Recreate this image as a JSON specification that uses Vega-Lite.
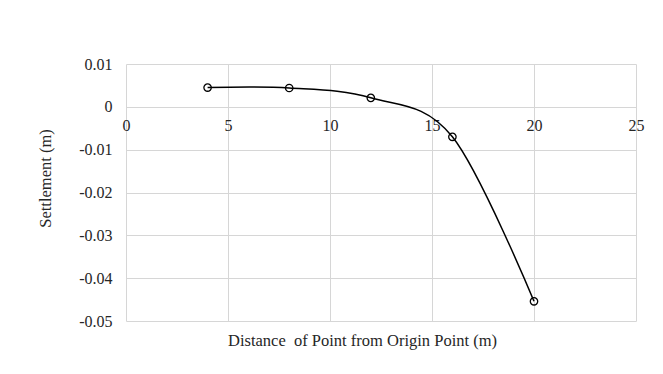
{
  "$schema": "https://vega.github.io/schema/vega-lite/v6.json",
  "width": 510,
  "height": 257,
  "autosize": {"type": "none"},
  "padding": {"left": 126, "top": 64, "right": 27, "bottom": 53},
  "background": "white",
  "config": {
    "view": {"stroke": null},
    "font": "Liberation Serif"
  },
  "data": {
    "values": [
      {"distance": 4, "settlement": 0.0045},
      {"distance": 8, "settlement": 0.0044},
      {"distance": 12, "settlement": 0.0021},
      {"distance": 16, "settlement": -0.0070},
      {"distance": 20, "settlement": -0.0454}
    ]
  },
  "encoding": {
    "x": {
      "field": "distance",
      "type": "quantitative",
      "scale": {"domain": [0, 25], "nice": false, "zero": false},
      "axis": {
        "title": "Distance\u00a0 of Point from Origin Point (m)",
        "values": [0, 5, 10, 15, 20, 25],
        "offset": -214,
        "domain": false,
        "ticks": false,
        "grid": true,
        "gridColor": "#d6d6d6",
        "gridWidth": 1,
        "labelFont": "Liberation Serif",
        "labelFontSize": 16,
        "labelColor": "#262626",
        "labelPadding": 10,
        "labelBaseline": "top",
        "labelFlush": false,
        "titleFont": "Liberation Serif",
        "titleFontSize": 16.5,
        "titleFontWeight": "normal",
        "titleColor": "#262626",
        "titleBaseline": "middle",
        "titleAlign": "center",
        "titleAnchor": null,
        "titleX": 236,
        "titleY": 233
      }
    },
    "y": {
      "field": "settlement",
      "type": "quantitative",
      "scale": {"domain": [-0.05, 0.01], "nice": false, "zero": false},
      "axis": {
        "title": "Settlement (m)",
        "values": [-0.05, -0.04, -0.03, -0.02, -0.01, 0, 0.01],
        "labelExpr": "datum.value == 0 ? '0' : replace(format(datum.value, '.2f'), '\u2212', '-')",
        "domain": false,
        "ticks": false,
        "grid": true,
        "gridColor": "#d6d6d6",
        "gridWidth": 1,
        "labelFont": "Liberation Serif",
        "labelFontSize": 16,
        "labelColor": "#262626",
        "labelPadding": 14,
        "titleFont": "Liberation Serif",
        "titleFontSize": 16.5,
        "titleFontWeight": "normal",
        "titleColor": "#262626",
        "titleBaseline": "middle",
        "titleAlign": "center",
        "titleAngle": -90,
        "titleX": -81,
        "titleY": 114
      }
    }
  },
  "layer": [
    {
      "mark": {"type": "line", "interpolate": "cardinal", "tension": 0, "color": "black", "strokeWidth": 1.5}
    },
    {
      "mark": {"type": "point", "shape": "circle", "filled": false, "stroke": "black", "strokeWidth": 1.3, "size": 55, "opacity": 1}
    }
  ]
}
